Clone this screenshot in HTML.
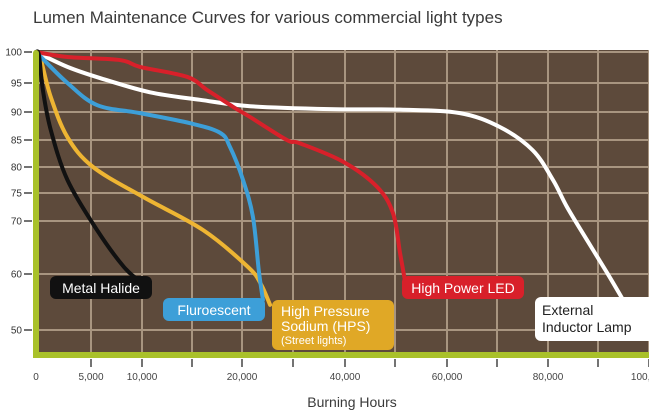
<!DOCTYPE html>
<html><head><meta charset="utf-8"><style>
body{margin:0;background:#fff;width:649px;height:411px;overflow:hidden;font-family:"Liberation Sans",sans-serif}
</style></head><body>
<svg width="649" height="411" viewBox="0 0 649 411" id="chart" xmlns="http://www.w3.org/2000/svg" style="font-family:'Liberation Sans',sans-serif">
<text x="33" y="23" font-size="17" fill="#3a3a3a">Lumen Maintenance Curves for various commercial light types</text>
<text x="352" y="407" font-size="14" fill="#3a3a3a" text-anchor="middle">Burning Hours</text>
<rect x="39" y="50" width="610" height="302" fill="#5d4a3b"/>
<g id="grid"></g>
<g id="series"></g>
<rect x="33" y="50" width="6" height="308" rx="3" fill="#a9c12a"/>
<rect x="33" y="352" width="616" height="6" fill="#a9c12a"/>
<g id="axes"></g>
<g font-size="14">
<g><rect x="50" y="276" width="102" height="23" rx="6" fill="#111"/><text x="101" y="293" fill="#fff" text-anchor="middle">Metal Halide</text></g>
<g><rect x="163" y="298" width="102" height="23" rx="6" fill="#3d9fd8"/><text x="214" y="315" fill="#fff" text-anchor="middle">Fluroescent</text></g>
<g><rect x="272" y="300" width="122" height="50" rx="6" fill="#e0a826"/><text x="281" y="316" fill="#fff">High Pressure</text><text x="281" y="331" fill="#fff">Sodium (HPS)</text><text x="281" y="344" fill="#fff" font-size="11">(Street lights)</text></g>
<g><rect x="402" y="276" width="122" height="23" rx="6" fill="#d8202a"/><text x="463" y="293" fill="#fff" text-anchor="middle">High Power LED</text></g>
<g><rect x="535" y="297" width="125" height="44" rx="6" fill="#fff"/><text x="542" y="315" fill="#222">External</text><text x="542" y="332" fill="#222">Inductor Lamp</text></g>
</g>
</svg>
<script>
const xTickValues=[0,5000,10000,15000,20000,30000,40000,50000,60000,70000,80000,90000,100000];
const xTickLabels=["0","5,000","10,000","","20,000","","40,000","","60,000","","80,000","","100,000"];
const yTickValues=[100,95,90,85,80,75,70,60,50];
const yTickLabels=["100","95","90","85","80","75","70","60","50"];
const metalHours=[0,270,625,1340,2860,5590,8240,10100];
const metalPct=[100,99.5,93.8,86.8,77.5,68.3,61.3,58.2];
const fluorHours=[0,446,2860,5590,9800,14800,17800,18800,20200,22150,23300,24100];
const fluorPct=[100,99.2,95,91.2,89.8,88.0,86.3,83.7,77.5,70.7,60.6,55.4];
const hpsHours=[0,446,1340,2860,5200,10100,16100,21200,23700,25500];
const hpsPct=[100,98.7,92.6,85.5,80,74.3,68.3,61.3,58.2,54.5];
const ledHours=[0,2860,7840,9800,14500,16500,19100,21600,28800,31300,39600,46400,49600,50960,51900];
const ledPct=[100,99.2,98.7,97.6,96,93.8,90.9,89.1,85,84.4,81,76.2,71.4,64,58.9];
const indHours=[0,2860,5880,10800,15800,21600,37100,51000,62600,70600,77000,81000,83800,87800,91800,94900];
const indPct=[100,97.6,95.8,93.4,92.1,91,90.5,90.4,89.8,87.3,83.1,77.5,72.5,66.4,60.2,55.4];

const xPix=[36,91,142,192,242,293,345,395,447,497,548,598,649];
const yPix=[52,83,112,140,167,193,221,274,330];
function interp(v,ks,ps){
  const asc=ks[1]>ks[0];
  for(let i=0;i<ks.length-1;i++){
    const a=ks[i],b=ks[i+1];
    if(asc?(v<=b||i==ks.length-2):(v>=b||i==ks.length-2)){return ps[i]+(v-a)/(b-a)*(ps[i+1]-ps[i]);}
  }
}
const X=v=>interp(v,xTickValues,xPix);
const Y=v=>interp(v,yTickValues,yPix);
const NS="http://www.w3.org/2000/svg";
function mk(t,a,p){const e=document.createElementNS(NS,t);for(const k in a)e.setAttribute(k,a[k]);p.appendChild(e);return e;}
const grid=document.getElementById('grid'),axes=document.getElementById('axes'),series=document.getElementById('series');
xTickValues.forEach((v,i)=>{
  if(i>0){const l=mk('line',{x1:X(v),x2:X(v),y1:50,y2:352,stroke:'#a89580','stroke-width':2},grid);
  
  
  const t=mk('line',{x1:X(v),x2:X(v),y1:359,y2:367,stroke:'#444','stroke-width':1.5},axes);
  
  }
  const tx=mk('text',{x:X(v),y:380,'font-size':10,fill:'#444','text-anchor':'middle'},axes);
  tx.textContent=xTickLabels[i];
  
  
});
yTickValues.forEach((v,i)=>{
  const l=mk('line',{x1:39,x2:649,y1:Y(v),y2:Y(v),stroke:'#a89580','stroke-width':2},grid);
  
  
  const t=mk('line',{x1:24,x2:32,y1:Y(v),y2:Y(v),stroke:'#444','stroke-width':1.5},axes);
  
  
  const tx=mk('text',{x:22,y:Y(v)+3.5,'font-size':10,fill:'#333','text-anchor':'end'},axes);
  tx.textContent=yTickLabels[i];
  
  
});
function smooth(pts){
  let d='M'+pts[0][0]+','+pts[0][1];
  for(let i=0;i<pts.length-1;i++){
    const p0=pts[i-1]||pts[i],p1=pts[i],p2=pts[i+1],p3=pts[i+2]||p2;
    const c1=[p1[0]+(p2[0]-p0[0])/6,p1[1]+(p2[1]-p0[1])/6],c2=[p2[0]-(p3[0]-p1[0])/6,p2[1]-(p3[1]-p1[1])/6];
    d+=' C'+c1.join(',')+' '+c2.join(',')+' '+p2.join(',');
  }
  return d;
}
function draw(hs,ps,color,name){
  const pts=hs.map((h,i)=>[X(h),Y(ps[i])]);
  const p=mk('path',{d:smooth(pts),fill:'none',stroke:color,'stroke-width':4,'stroke-linecap':'round','stroke-linejoin':'round'},series);
  
  
}
draw(indHours,indPct,'#ffffff','inductor-line');
draw(ledHours,ledPct,'#d8202a','led-line');
draw(hpsHours,hpsPct,'#eeb533','hps-line');
draw(fluorHours,fluorPct,'#3d9fd8','fluorescent-line');
draw(metalHours,metalPct,'#111111','metal-halide-line');
</script>
</body></html>
